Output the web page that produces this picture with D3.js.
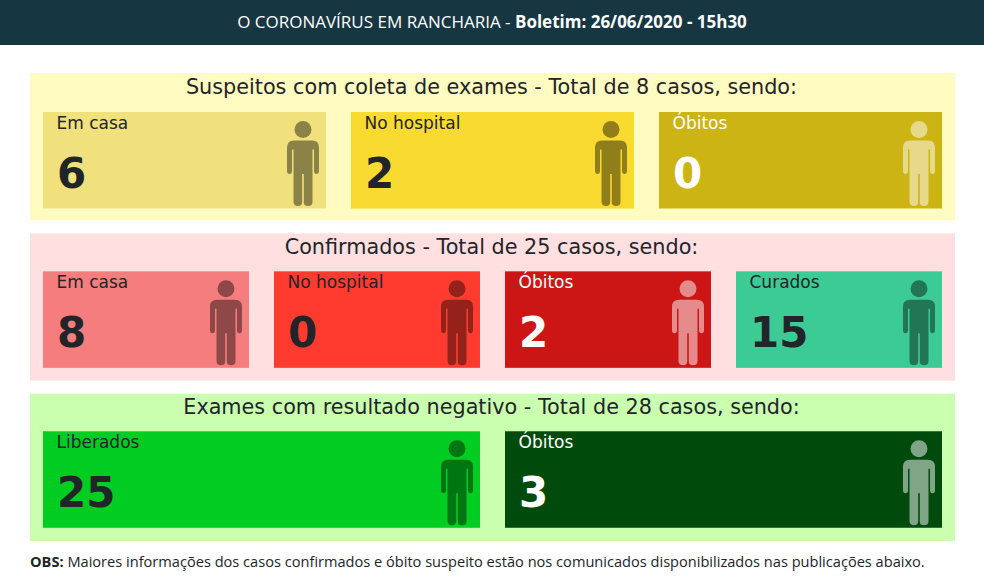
<!DOCTYPE html>
<html lang="pt-BR">
<head>
<meta charset="UTF-8">
<title>O coronavírus em Rancharia</title>
<script src="https://d3js.org/d3.v7.min.js"></script>
<style>
  html, body { margin: 0; padding: 0; background: #fff; overflow: hidden; }
  svg { display: block; }
  .sans { font-family: "Open Sans", sans-serif; }
  .dj { font-family: "DejaVu Sans", sans-serif; }
</style>
</head>
<body>
<svg id="chart" width="984" height="588"></svg>
<script>
const headerLight = "O CORONAVÍRUS EM RANCHARIA - ";
const headerBold = "Boletim: 26/06/2020 - 15h30";
const obsBold = "OBS:";
const obsText = " Maiores informações dos casos confirmados e óbito suspeito estão nos comunicados disponibilizados nas publicações abaixo.";

const titles = [
  "Suspeitos com coleta de exames - Total de 8 casos, sendo:",
  "Confirmados - Total de 25 casos, sendo:",
  "Exames com resultado negativo - Total de 28 casos, sendo:"
];
const panelColors = ["#fffbc1", "#ffdfdf", "#c9ffaf"];

const labels = [
  ["Em casa", "No hospital", "Óbitos"],
  ["Em casa", "No hospital", "Óbitos", "Curados"],
  ["Liberados", "Óbitos"]
];
const values = [
  [6, 2, 0],
  [8, 0, 2, 15],
  [25, 3]
];
const cardColors = [
  ["#f0e17c", "#f9da30", "#ccb414"],
  ["#f67d7d", "#ff3b30", "#cc1616", "#3ccb94"],
  ["#00cc22", "#004a0c"]
];
const lightText = [
  [false, false, true],
  [false, false, true, false],
  [false, true]
];

const svg = d3.select("#chart");

// header bar
svg.append("rect").attr("width", 984).attr("height", 45).attr("fill", "#163642");
const head = svg.append("text").attr("class", "sans").attr("x", 492).attr("y", 28)
  .attr("text-anchor", "middle").attr("font-size", 17).attr("fill", "#fff");
head.append("tspan").text(headerLight);
head.append("tspan").attr("font-weight", 700).text(headerBold);

const panelY = d3.scaleBand().domain(d3.range(titles.length)).range([73, 541]).paddingInner(13 / 160.3);
// the cards sit a bit higher in the lower panels
const cardOffset = [39, 38, 37.6];

// person icon, local coords 0..32 x 0..85
function person(g, fill, op) {
  const p = g.append("g").attr("fill", fill).attr("fill-opacity", op);
  p.append("circle").attr("cx", 16).attr("cy", 8.5).attr("r", 8.5);
  p.append("path").attr("d",
    "M7 19.5H25Q32 19.5 32 26.5V50Q32 53 29.5 53T27 50V28.5H25.5V81Q25.5 85 21 85T16.8 81V53H15.2V81Q15.2 85 11 85T6.5 81V28.5H5V50Q5 53 2.5 53T0 50V26.5Q0 19.5 7 19.5Z");
}

titles.forEach((title, i) => {
  const top = panelY(i);
  const pg = svg.append("g").attr("transform", `translate(0,${top})`);
  pg.append("rect").attr("x", 30).attr("width", 925).attr("height", panelY.bandwidth()).attr("fill", panelColors[i]);
  pg.append("text").attr("class", "dj").attr("x", 491.5).attr("y", 21 - i * 0.3).attr("text-anchor", "middle")
    .attr("font-size", 20.75).attr("fill", "#212529").text(title);

  const n = values[i].length;
  const step = (899 + 25) / n;
  const x = d3.scaleBand().domain(d3.range(n)).range([43, 942]).paddingInner(25 / step);

  const cards = pg.selectAll("g.card").data(values[i]).join("g").attr("class", "card")
    .attr("transform", (d, j) => `translate(${x(j)},${cardOffset[i]})`);

  cards.append("rect").attr("width", x.bandwidth()).attr("height", 96.5)
    .attr("fill", (d, j) => cardColors[i][j]);
  cards.append("text").attr("class", "dj").attr("x", 13.5).attr("y", 17).attr("font-size", 17)
    .attr("fill", (d, j) => lightText[i][j] ? "#fff" : "#212529")
    .text((d, j) => labels[i][j]);
  cards.append("text").attr("class", "dj").attr("x", 14).attr("y", 75.5).attr("font-size", 42).attr("font-weight", 700)
    .attr("fill", (d, j) => lightText[i][j] ? "#fff" : "#212529")
    .text(d => d);
  cards.each(function(d, j) {
    const g = d3.select(this).append("g").attr("transform", `translate(${x.bandwidth() - 39},9)`);
    person(g, lightText[i][j] ? "#fff" : "#000", lightText[i][j] ? 0.5 : 0.42);
  });
});

// footnote
const obs = svg.append("text").attr("class", "sans").attr("x", 30).attr("y", 567)
  .attr("font-size", 14.6).attr("fill", "#212529");
obs.append("tspan").attr("font-weight", 700).text(obsBold);
obs.append("tspan").text(obsText);
</script>
</body>
</html>
